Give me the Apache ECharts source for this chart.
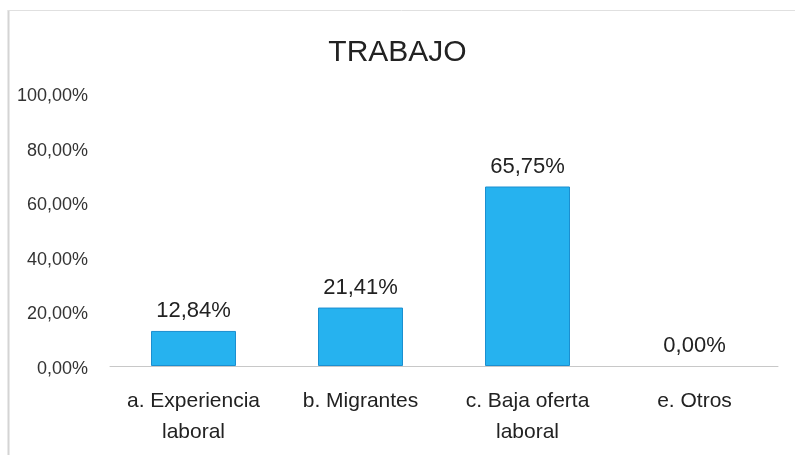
<!DOCTYPE html>
<html>
<head>
<meta charset="utf-8">
<script src="https://cdn.jsdelivr.net/npm/echarts@6/dist/echarts.min.js"></script>
<style>
  html, body { margin: 0; padding: 0; background: #fff; }
  #chart { width: 795px; height: 455px; }
</style>
</head>
<body>
<div id="chart"></div>
<script>
// datos del gráfico
const categorias = ['a. Experiencia\nlaboral', 'b. Migrantes', 'c. Baja oferta\nlaboral', 'e. Otros'];
const valores = [12.84, 21.41, 65.75, 0.0];

const fmt = (v) => v.toFixed(2).replace('.', ',') + '%';
const fuente = '"Liberation Sans", Arial, sans-serif';

const chart = echarts.init(document.getElementById('chart'));
chart.setOption({
  animation: false,
  textStyle: { fontFamily: fuente },
  title: {
    text: 'TRABAJO',
    left: 'center',
    top: 33,
    textStyle: { fontSize: 30, fontWeight: 'normal', color: '#222', fontFamily: fuente }
  },
  graphic: [
    { type: 'line', shape: { x1: 8.5, y1: 10, x2: 8.5, y2: 455 }, style: { stroke: '#d4d4d4', lineWidth: 2 } },
    { type: 'line', shape: { x1: 8, y1: 10.5, x2: 795, y2: 10.5 }, style: { stroke: '#e0e0e0', lineWidth: 1 } }
  ],
  grid: { left: 110, right: 17, top: 93, bottom: 89 },
  xAxis: {
    type: 'category',
    data: categorias,
    axisTick: { show: false },
    axisLine: { lineStyle: { color: '#c8c8c8' } },
    axisLabel: { color: '#222', fontSize: 21, margin: 20, lineHeight: 31, interval: 0, fontFamily: fuente }
  },
  yAxis: {
    type: 'value',
    min: 0,
    max: 100,
    interval: 20,
    splitLine: { show: false },
    axisLabel: {
      margin: 22,
      formatter: (v) => '{v|' + fmt(v) + '}',
      rich: { v: { color: '#333', fontSize: 18, padding: [6, 0, 0, 0], fontFamily: fuente } }
    }
  },
  series: [{
    type: 'bar',
    data: valores.map((v) => ({ value: v, itemStyle: { borderWidth: v === 0 ? 0 : 1 } })),
    barWidth: 85,
    itemStyle: { color: '#26b2ef', borderColor: '#1b8fd0', borderWidth: 1 },
    label: {
      show: true,
      position: 'top',
      distance: 9,
      color: '#222',
      fontSize: 22,
      fontFamily: fuente,
      formatter: (p) => fmt(p.value)
    }
  }]
});
</script>
</body>
</html>
